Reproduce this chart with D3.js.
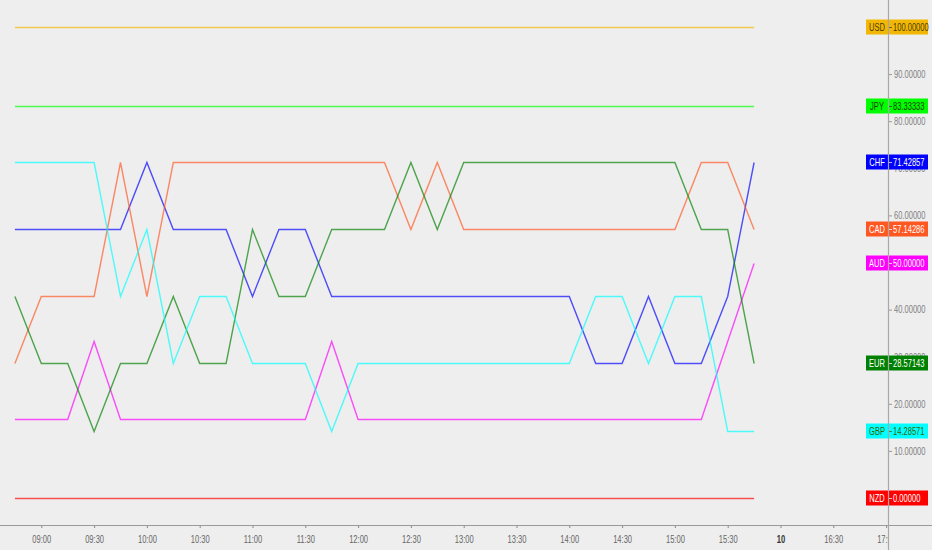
<!DOCTYPE html>
<html>
<head>
<meta charset="utf-8">
<script src="https://cdn.jsdelivr.net/npm/d3@7"></script>
<style>
  html, body { margin: 0; padding: 0; background: #eeeeee; }
  svg { display: block; }
</style>
</head>
<body>
<svg id="chart" width="932" height="550"></svg>
<script>
// ---- data ----
const times = ["08:45","09:00","09:15","09:30","09:45","10:00","10:15","10:30","10:45","11:00","11:15","11:30","11:45","12:00","12:15","12:30","12:45","13:00","13:15","13:30","13:45","14:00","14:15","14:30","14:45","15:00","15:15","15:30","15:45"];

const USD = [100,100,100,100,100,100,100,100,100,100,100,100,100,100,100,100,100,100,100,100,100,100,100,100,100,100,100,100,100];
const JPY = [83.33333,83.33333,83.33333,83.33333,83.33333,83.33333,83.33333,83.33333,83.33333,83.33333,83.33333,83.33333,83.33333,83.33333,83.33333,83.33333,83.33333,83.33333,83.33333,83.33333,83.33333,83.33333,83.33333,83.33333,83.33333,83.33333,83.33333,83.33333,83.33333];
const CHF = [57.14286,57.14286,57.14286,57.14286,57.14286,71.42857,57.14286,57.14286,57.14286,42.85714,57.14286,57.14286,42.85714,42.85714,42.85714,42.85714,42.85714,42.85714,42.85714,42.85714,42.85714,42.85714,28.57143,28.57143,42.85714,28.57143,28.57143,42.85714,71.42857];
const CAD = [28.57143,42.85714,42.85714,42.85714,71.42857,42.85714,71.42857,71.42857,71.42857,71.42857,71.42857,71.42857,71.42857,71.42857,71.42857,57.14286,71.42857,57.14286,57.14286,57.14286,57.14286,57.14286,57.14286,57.14286,57.14286,57.14286,71.42857,71.42857,57.14286];
const AUD = [16.66667,16.66667,16.66667,33.33333,16.66667,16.66667,16.66667,16.66667,16.66667,16.66667,16.66667,16.66667,33.33333,16.66667,16.66667,16.66667,16.66667,16.66667,16.66667,16.66667,16.66667,16.66667,16.66667,16.66667,16.66667,16.66667,16.66667,33.33333,50];
const EUR = [42.85714,28.57143,28.57143,14.28571,28.57143,28.57143,42.85714,28.57143,28.57143,57.14286,42.85714,42.85714,57.14286,57.14286,57.14286,71.42857,57.14286,71.42857,71.42857,71.42857,71.42857,71.42857,71.42857,71.42857,71.42857,71.42857,57.14286,57.14286,28.57143];
const GBP = [71.42857,71.42857,71.42857,71.42857,42.85714,57.14286,28.57143,42.85714,42.85714,28.57143,28.57143,28.57143,14.28571,28.57143,28.57143,28.57143,28.57143,28.57143,28.57143,28.57143,28.57143,28.57143,42.85714,42.85714,28.57143,42.85714,42.85714,14.28571,14.28571];
const NZD = [0,0,0,0,0,0,0,0,0,0,0,0,0,0,0,0,0,0,0,0,0,0,0,0,0,0,0,0,0];

const seriesNames = ["USD","JPY","CHF","CAD","AUD","EUR","GBP","NZD"];
const seriesValues = [USD, JPY, CHF, CAD, AUD, EUR, GBP, NZD];
const seriesColors = ["#f2b705","#00ff00","#0000ff","#ff5722","#ff00ff","#008000","#00ffff","#ff0000"];
const labelTextColors = ["#4a3b00","#1a3d00","#ffffff","#ffffff","#ffffff","#ffffff","#336600","#ffffff"];

const xTickTimes = ["09:00","09:30","10:00","10:30","11:00","11:30","12:00","12:30","13:00","13:30","14:00","14:30","15:00","15:30","16:00","16:30","17:00"];
const xTickLabels = ["09:00","09:30","10:00","10:30","11:00","11:30","12:00","12:30","13:00","13:30","14:00","14:30","15:00","15:30","10","16:30","17:00"];
const yTicks = [10,20,30,40,50,60,70,80,90];

// ---- chart ----
const svg = d3.select("#chart");
const W = 932, H = 550;
const axisX = 888, axisY = 525;
const FONT = "'Liberation Sans', Arial, sans-serif";
const SQUEEZE = 0.72;
const parse = d3.timeParse("%H:%M");

function squeeze(sel) {
  sel.each(function () {
    const n = this.getComputedTextLength();
    if (n > 0) {
      this.setAttribute("textLength", (n * SQUEEZE).toFixed(2));
      this.setAttribute("lengthAdjust", "spacingAndGlyphs");
    }
  });
}

const x = d3.scaleTime()
  .domain([parse("08:45"), parse("15:45")])
  .range([14.9, 754.1]);
const y = d3.scaleLinear().domain([0, 100]).range([498, 27]);

svg.append("rect").attr("width", W).attr("height", H).attr("fill", "#eeeeee");

// lines
const line = d3.line()
  .x((d, i) => x(parse(times[i])))
  .y(d => Math.round(y(d)) + 0.5);

seriesValues.forEach((vals, k) => {
  svg.append("path")
    .datum(vals)
    .attr("d", line)
    .attr("fill", "none")
    .attr("stroke", seriesColors[k])
    .attr("stroke-opacity", 0.68)
    .attr("stroke-width", 1.4);
});

// right price axis
const yAxis = d3.axisRight(y).tickValues(yTicks).tickSize(4).tickPadding(2)
  .tickFormat(d => d.toFixed(5));
const gy = svg.append("g").attr("transform", `translate(${axisX},0)`).call(yAxis);
gy.select(".domain").remove();
gy.selectAll(".tick line").attr("stroke", "#999");
gy.selectAll(".tick text")
  .attr("fill", "#808080")
  .style("font-family", FONT)
  .style("font-size", "10.5px")
  .call(squeeze);

// bottom time axis
svg.append("defs").append("clipPath").attr("id", "xclip")
  .append("rect").attr("x", 0).attr("y", axisY - 5).attr("width", axisX).attr("height", 40);
const xAxis = d3.axisBottom(x)
  .tickValues(xTickTimes.map(parse))
  .tickSize(3).tickPadding(8)
  .tickFormat((d, i) => xTickLabels[i]);
const gx = svg.append("g").attr("clip-path", "url(#xclip)")
  .append("g").attr("transform", `translate(0,${axisY})`).call(xAxis);
gx.select(".domain").remove();
gx.selectAll(".tick line").attr("stroke", "#888");
gx.selectAll(".tick text")
  .style("font-family", FONT)
  .style("font-size", "10.5px")
  .style("font-weight", (d, i) => xTickLabels[i] === "10" ? "bold" : "normal")
  .attr("fill", (d, i) => xTickLabels[i] === "10" ? "#333" : "#666")
  .call(squeeze);

// horizontal axis line
svg.append("line").attr("x1", 0).attr("x2", W).attr("y1", axisY + 0.5).attr("y2", axisY + 0.5)
  .attr("stroke", "#9a9a9a").attr("stroke-width", 1);

// last-value labels
const labelG = svg.append("g");
seriesValues.forEach((vals, k) => {
  const v = vals[vals.length - 1];
  const cy = Math.round(y(v));
  const g = labelG.append("g").attr("transform", `translate(0,${cy})`);
  g.append("rect")
    .attr("x", 866).attr("y", -7.5).attr("width", 62).attr("height", 15)
    .attr("fill", seriesColors[k]);
  g.append("text")
    .attr("x", 877).attr("y", 0).attr("dy", "0.36em")
    .attr("text-anchor", "middle")
    .attr("fill", labelTextColors[k])
    .style("font-family", FONT)
    .style("font-size", "10.5px")
    .text(seriesNames[k])
    .call(squeeze);
  g.append("line").attr("x1", axisX).attr("x2", axisX + 4).attr("y1", 0.5).attr("y2", 0.5)
    .attr("stroke", labelTextColors[k]).attr("stroke-opacity", 0.7);
  g.append("text")
    .attr("x", 893).attr("y", 0).attr("dy", "0.36em")
    .attr("fill", labelTextColors[k])
    .style("font-family", FONT)
    .style("font-size", "10.5px")
    .text(v.toFixed(5))
    .call(squeeze);
});

// vertical axis line
svg.append("line").attr("x1", axisX + 0.5).attr("x2", axisX + 0.5).attr("y1", 0).attr("y2", H)
  .attr("stroke", "#a8a8a8").attr("stroke-width", 1.2);
</script>
</body>
</html>
